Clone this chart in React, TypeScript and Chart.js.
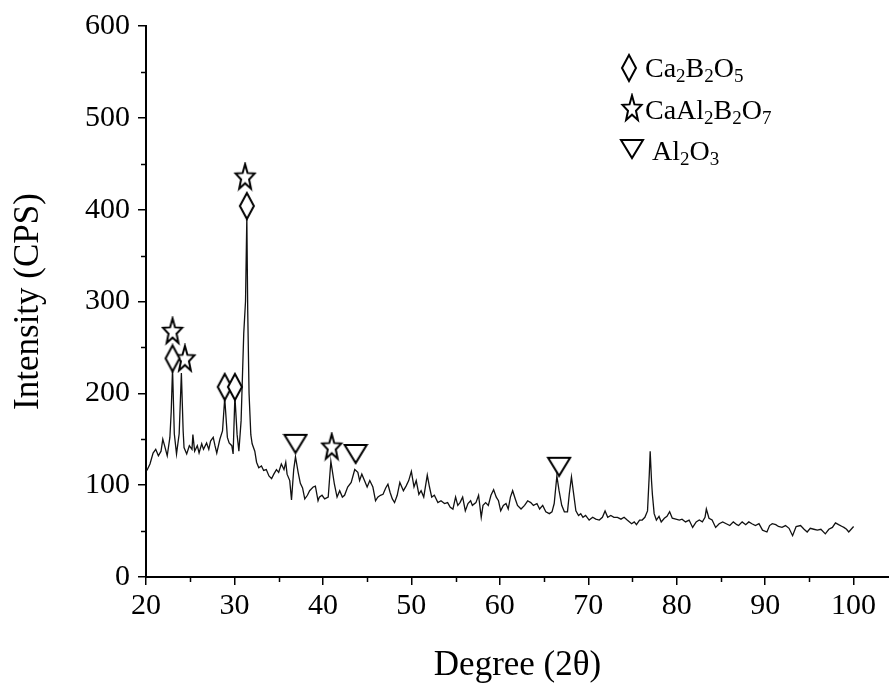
import React, { useEffect, useRef } from 'react';
import { Chart, registerables } from 'chart.js';

Chart.register(...registerables);

// 2θ (degrees)
const degrees = [
  20.1, 20.45, 20.8, 21.1, 21.4, 21.7, 21.9, 22.1, 22.4, 22.7, 22.85, 23.0, 23.2, 23.45, 23.75, 24.0, 24.2, 24.3, 24.6, 24.9,
  25.2, 25.3, 25.5, 25.8, 26.0, 26.3, 26.5, 26.85, 27.1, 27.3, 27.6, 27.8, 28.0, 28.35, 28.65, 28.9, 29.2, 29.4, 29.7, 29.85,
  30.05, 30.3, 30.5, 30.75, 31.05, 31.25, 31.4, 31.5, 31.65, 31.85, 32.0, 32.3, 32.5, 32.75, 33.05, 33.3, 33.6, 33.9, 34.2, 34.45,
  34.75, 35.0, 35.3, 35.6, 35.8, 35.95, 36.25, 36.45, 36.7, 36.9, 37.2, 37.45, 37.7, 37.95, 38.25, 38.5, 38.9, 39.15, 39.45, 39.6,
  39.9, 40.2, 40.6, 40.9, 41.3, 41.6, 41.9, 42.2, 42.45, 42.8, 43.2, 43.6, 43.95, 44.15, 44.4, 44.7, 45.0, 45.3, 45.65, 45.95,
  46.2, 46.5, 46.8, 47.1, 47.35, 47.6, 47.85, 48.1, 48.4, 48.7, 49.1, 49.4, 49.7, 50.0, 50.3, 50.55, 50.85, 51.1, 51.4, 51.8,
  52.05, 52.3, 52.6, 53.0, 53.35, 53.75, 54.1, 54.4, 54.7, 55.0, 55.25, 55.5, 55.8, 56.1, 56.4, 56.7, 56.9, 57.3, 57.6, 57.9,
  58.1, 58.4, 58.7, 59.0, 59.3, 59.6, 59.85, 60.1, 60.4, 60.7, 60.95, 61.2, 61.45, 61.75, 62.0, 62.4, 62.8, 63.15, 63.5, 63.8,
  64.2, 64.5, 64.85, 65.2, 65.6, 65.9, 66.15, 66.45, 66.7, 67.0, 67.3, 67.65, 67.85, 68.1, 68.3, 68.6, 68.9, 69.15, 69.4, 69.7,
  70.1, 70.5, 70.85, 71.25, 71.6, 71.9, 72.2, 72.55, 72.9, 73.3, 73.7, 74.05, 74.4, 74.9, 75.2, 75.45, 75.8, 76.1, 76.4, 76.7,
  76.9, 77.0, 77.15, 77.25, 77.45, 77.7, 78.0, 78.25, 78.6, 78.9, 79.2, 79.5, 79.9, 80.3, 80.6, 81.0, 81.4, 81.8, 82.2, 82.55,
  82.9, 83.2, 83.35, 83.65, 84.0, 84.4, 84.8, 85.2, 85.6, 86.0, 86.4, 86.8, 87.0, 87.4, 87.8, 88.15, 88.5, 88.9, 89.3, 89.7,
  90.2, 90.5, 90.8, 91.2, 91.5, 91.9, 92.3, 92.7, 93.1, 93.5, 94.0, 94.4, 94.75, 95.1, 95.5, 95.9, 96.3, 96.8, 97.2, 97.6,
  97.95, 98.3, 98.7, 98.9, 99.2, 99.45, 100.0,
];

// Intensity (CPS)
const intensity = [
  116, 123, 135, 139, 132, 137, 150, 143, 132, 152, 180, 227, 156, 134, 156, 222, 159, 141, 134, 143,
  139, 155, 137, 143, 135, 145, 139, 146, 139, 148, 152, 143, 135, 150, 159, 195, 152, 146, 143, 134,
  197, 155, 137, 170, 265, 300, 392, 290, 200, 155, 145, 137, 125, 119, 121, 116, 117, 110, 107, 112,
  117, 114, 123, 117, 125, 112, 105, 84, 117, 131, 114, 102, 97, 85, 89, 94, 98, 99, 83, 87,
  89, 85, 87, 126, 101, 87, 94, 87, 89, 98, 103, 117, 114, 105, 112, 105, 98, 105, 98, 83,
  87, 89, 90, 97, 101, 92, 85, 81, 89, 103, 94, 99, 105, 115, 98, 105, 90, 94, 87, 111,
  98, 87, 89, 81, 83, 80, 81, 76, 74, 87, 78, 81, 87, 72, 80, 83, 78, 81, 89, 65,
  78, 81, 78, 89, 95, 87, 83, 72, 78, 80, 74, 87, 94, 85, 78, 74, 78, 83, 81, 78,
  80, 74, 78, 71, 69, 71, 80, 110, 94, 78, 71, 71, 90, 109, 94, 72, 67, 69, 65, 67,
  62, 65, 63, 62, 65, 72, 65, 67, 65, 65, 63, 65, 62, 58, 60, 57, 62, 62, 65, 72,
  112, 137, 105, 90, 69, 62, 66, 60, 64, 66, 71, 64, 63, 62, 63, 60, 62, 54, 60, 62,
  60, 65, 74, 64, 62, 54, 58, 60, 58, 56, 60, 57, 56, 60, 57, 60, 58, 56, 58, 51,
  49, 56, 58, 57, 55, 54, 56, 53, 45, 55, 56, 52, 49, 53, 52, 51, 52, 47, 52, 54,
  59, 57, 55, 54, 52, 49, 55,
];

// Phase markers (position of each symbol)
const diamondDeg = [23.0, 28.9, 30.05, 31.4];
const diamondCps = [238, 207, 207, 404];
const starDeg = [23.0, 24.4, 31.2, 41.0];
const starCps = [268, 238, 436, 142];
const triangleDeg = [36.9, 43.7, 66.7];
const triangleCps = [145, 134, 120];

// Axis ticks
const xTicks = [20, 30, 40, 50, 60, 70, 80, 90, 100];
const xMinorTicks = [25, 35, 45, 55, 65, 75, 85, 95];
const yTicks = [0, 100, 200, 300, 400, 500, 600];
const yMinorTicks = [50, 150, 250, 350, 450, 550];

// Legend entries: [text, isSubscript] runs
const legendDiamond: [string, boolean][] = [['Ca', false], ['2', true], ['B', false], ['2', true], ['O', false], ['5', true]];
const legendStar: [string, boolean][] = [['CaAl', false], ['2', true], ['B', false], ['2', true], ['O', false], ['7', true]];
const legendTriangle: [string, boolean][] = [['Al', false], ['2', true], ['O', false], ['3', true]];

const FONT = '"Liberation Serif", "Times New Roman", serif';

function makeDiamond(): HTMLCanvasElement {
  const c = document.createElement('canvas');
  c.width = 18; c.height = 30;
  const g = c.getContext('2d')!;
  g.beginPath();
  g.moveTo(9, 2); g.lineTo(16, 15); g.lineTo(9, 28); g.lineTo(2, 15); g.closePath();
  g.fillStyle = '#fff'; g.fill();
  g.lineWidth = 2; g.strokeStyle = '#000'; g.stroke();
  return c;
}

function makeStar(): HTMLCanvasElement {
  const c = document.createElement('canvas');
  c.width = 24; c.height = 30;
  const g = c.getContext('2d')!;
  g.beginPath();
  for (let k = 0; k < 10; k++) {
    const a = -Math.PI / 2 + (k * Math.PI) / 5;
    const r = k % 2 === 0 ? 1 : 0.42;
    const x = 12 + Math.cos(a) * r * 10;
    const y = 16 + Math.sin(a) * r * 13.5;
    if (k === 0) g.moveTo(x, y); else g.lineTo(x, y);
  }
  g.closePath();
  g.fillStyle = '#fff'; g.fill();
  g.lineWidth = 2; g.strokeStyle = '#000'; g.lineJoin = 'miter'; g.stroke();
  return c;
}

function makeTriangle(): HTMLCanvasElement {
  const c = document.createElement('canvas');
  c.width = 26; c.height = 22;
  const g = c.getContext('2d')!;
  g.beginPath();
  g.moveTo(2, 2); g.lineTo(24, 2); g.lineTo(13, 20); g.closePath();
  g.fillStyle = '#fff'; g.fill();
  g.lineWidth = 2; g.strokeStyle = '#000'; g.stroke();
  return c;
}

function drawChem(ctx: CanvasRenderingContext2D, runs: [string, boolean][], x: number, y: number) {
  let cx = x;
  for (const [t, sub] of runs) {
    ctx.font = (sub ? '19px ' : '28px ') + FONT;
    ctx.fillText(t, cx, sub ? y + 5 : y);
    cx += ctx.measureText(t).width;
  }
}

export default function App() {
  const ref = useRef<HTMLCanvasElement | null>(null);

  useEffect(() => {
    document.body.style.margin = '0';
    const canvas = ref.current;
    if (!canvas) return;
    const diamond = makeDiamond();
    const star = makeStar();
    const triangle = makeTriangle();

    const extras = {
      id: 'extras',
      afterDraw(chart: any) {
        const ctx: CanvasRenderingContext2D = chart.ctx;
        const xs = chart.scales.x;
        const ys = chart.scales.y;
        ctx.save();
        ctx.strokeStyle = '#000';
        ctx.lineWidth = 1.5;
        for (const v of xMinorTicks) {
          const px = Math.round(xs.getPixelForValue(v)) + 0.5;
          ctx.beginPath(); ctx.moveTo(px, ys.bottom); ctx.lineTo(px, ys.bottom + 5); ctx.stroke();
        }
        for (const v of yMinorTicks) {
          const py = Math.round(ys.getPixelForValue(v)) + 0.5;
          ctx.beginPath(); ctx.moveTo(xs.left, py); ctx.lineTo(xs.left - 5, py); ctx.stroke();
        }
        // legend
        ctx.fillStyle = '#000';
        ctx.textBaseline = 'alphabetic';
        ctx.textAlign = 'left';
        ctx.drawImage(diamond, 629 - diamond.width / 2, 68 - diamond.height / 2);
        drawChem(ctx, legendDiamond, 645, 77);
        ctx.drawImage(star, 632 - star.width / 2, 108 - star.height / 2);
        drawChem(ctx, legendStar, 645, 119);
        ctx.drawImage(triangle, 632 - triangle.width / 2, 149 - triangle.height / 2);
        drawChem(ctx, legendTriangle, 652, 160);
        ctx.restore();
      },
    };

    const chart = new Chart(canvas, {
      type: 'line',
      data: {
        datasets: [
          {
            label: 'pattern',
            data: degrees.map((d, i) => ({ x: d, y: intensity[i] })),
            borderColor: '#111',
            borderWidth: 1.3,
            pointRadius: 0,
            tension: 0,
            fill: false,
            order: 2,
          },
          {
            type: 'scatter',
            label: 'Ca2B2O5',
            data: diamondDeg.map((d, i) => ({ x: d, y: diamondCps[i] })),
            pointStyle: diamond,
            pointRadius: 10,
            showLine: false,
            order: 1,
          } as any,
          {
            type: 'scatter',
            label: 'CaAl2B2O7',
            data: starDeg.map((d, i) => ({ x: d, y: starCps[i] })),
            pointStyle: star,
            pointRadius: 10,
            showLine: false,
            order: 1,
          } as any,
          {
            type: 'scatter',
            label: 'Al2O3',
            data: triangleDeg.map((d, i) => ({ x: d, y: triangleCps[i] })),
            pointStyle: triangle,
            pointRadius: 10,
            showLine: false,
            order: 1,
          } as any,
        ],
      },
      options: {
        responsive: false,
        animation: false,
        devicePixelRatio: 1,
        layout: { autoPadding: false, padding: { top: 22, right: 0, left: 0, bottom: 0 } },
        plugins: { legend: { display: false }, tooltip: { enabled: false } },
        scales: {
          x: {
            type: 'linear',
            min: 20,
            max: 104,
            afterBuildTicks: (s: any) => { s.ticks = xTicks.map((v) => ({ value: v })); },
            afterFit: (s: any) => { s.height = 116; s.paddingRight = 0; s.paddingLeft = 0; },
            border: { display: true, color: '#000', width: 2 },
            grid: { drawOnChartArea: false, drawTicks: true, tickLength: 8, color: '#000', lineWidth: 1.5 },
            ticks: { color: '#000', font: { family: FONT, size: 30 }, padding: 3, maxRotation: 0, autoSkip: false },
            title: { display: true, text: 'Degree (2θ)', color: '#000', font: { family: FONT, size: 35 }, padding: { bottom: 6 } },
          },
          y: {
            type: 'linear',
            min: 0,
            max: 600,
            afterBuildTicks: (s: any) => { s.ticks = yTicks.map((v) => ({ value: v })); },
            afterFit: (s: any) => { s.width = 146; },
            border: { display: true, color: '#000', width: 2 },
            grid: { drawOnChartArea: false, drawTicks: true, tickLength: 8, color: '#000', lineWidth: 1.5 },
            ticks: { color: '#000', font: { family: FONT, size: 30 }, padding: 8, autoSkip: false },
            title: { display: true, text: 'Intensity (CPS)', color: '#000', font: { family: FONT, size: 35 }, padding: { top: 8 } },
          },
        },
      },
      plugins: [extras],
    } as any);

    return () => chart.destroy();
  }, []);

  return (
    <div style={{ width: 889, height: 693, background: '#fff' }}>
      <canvas ref={ref} width={889} height={693} style={{ display: 'block' }} />
    </div>
  );
}
